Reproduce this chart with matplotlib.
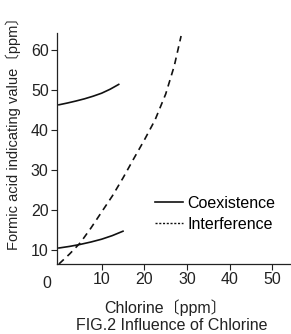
import matplotlib
matplotlib.use("Agg")
import matplotlib.pyplot as plt
from matplotlib.lines import Line2D

plt.rcParams['font.family'] = ['Liberation Sans', 'Noto Sans CJK JP', 'DejaVu Sans']

# values
coex_upper_x = [0, 2, 4, 6, 8, 10, 12, 14]
coex_upper_y = [46.3, 46.75, 47.25, 47.8, 48.45, 49.2, 50.2, 51.4]
coex_lower_x = [0, 2.5, 5, 7.5, 10, 12.5, 15]
coex_lower_y = [10.5, 10.9, 11.4, 12.0, 12.7, 13.6, 14.7]
interf_x = [0, 2.5, 5, 7.5, 10, 12.5, 15, 17.5, 20, 22.5, 25, 27, 28.6]
interf_y = [6.5, 9.0, 11.8, 15.5, 19.5, 23.5, 28.0, 32.8, 37.5, 42.5, 49.0, 56.0, 63.5]
x_ticks = [10, 20, 30, 40, 50]
y_ticks = [10, 20, 30, 40, 50, 60]
legend_labels = ['Coexistence', 'Interference']

W, H = 291, 334
fig = plt.figure(figsize=(W / 100, H / 100), dpi=100)
ax = fig.add_axes([57 / W, 1 - 264 / H, (290 - 57) / W, (264 - 33) / H])

ax.plot(coex_upper_x, coex_upper_y, color='#111111', lw=1.2)
ax.plot(coex_lower_x, coex_lower_y, color='#111111', lw=1.2)
ax.plot(interf_x, interf_y, color='#111111', lw=1.2, ls=(0, (4, 3)))

ax.set_xlim(-0.45, 54.1)
ax.set_ylim(6.5, 64.25)
ax.set_xticks(x_ticks)
ax.set_yticks(y_ticks)
ax.tick_params(direction='out', length=4, width=0.8, labelsize=11.5, colors='#222222', pad=2)
for s in ['top', 'right']:
    ax.spines[s].set_visible(False)
for s in ['left', 'bottom']:
    ax.spines[s].set_linewidth(0.9)
    ax.spines[s].set_color('#222222')

ax.annotate('0', xy=(0, 0), xycoords='axes fraction', xytext=(-10, -19),
            textcoords='offset pixels', ha='center', va='center', fontsize=11.5, color='#222222')

handles = [Line2D([], [], color='#111111', lw=1.2),
           Line2D([], [], color='#111111', lw=1.0, ls=(0, (1.5, 1.2)))]
ax.legend(handles, legend_labels, loc='upper left', bbox_to_anchor=(155 / W, 1 - 196 / H),
          bbox_transform=fig.transFigure, frameon=False, fontsize=11.5, handlelength=1.75,
          handletextpad=0.3, borderpad=0, borderaxespad=0, labelspacing=0.38)

fig.text(13 / W, 1 - 130 / H, 'Formic acid indicating value〔ppm〕', rotation=90,
         ha='center', va='center', fontsize=10.5, color='#222222')
fig.text(166 / W, 1 - 308 / H, 'Chlorine〔ppm〕', ha='center', va='center', fontsize=11.5, color='#222222')
fig.text(172 / W, 1 - 326 / H, 'FIG.2 Influence of Chlorine', ha='center', va='center', fontsize=11.5, color='#222222')

fig.savefig('out.png', dpi=100)
